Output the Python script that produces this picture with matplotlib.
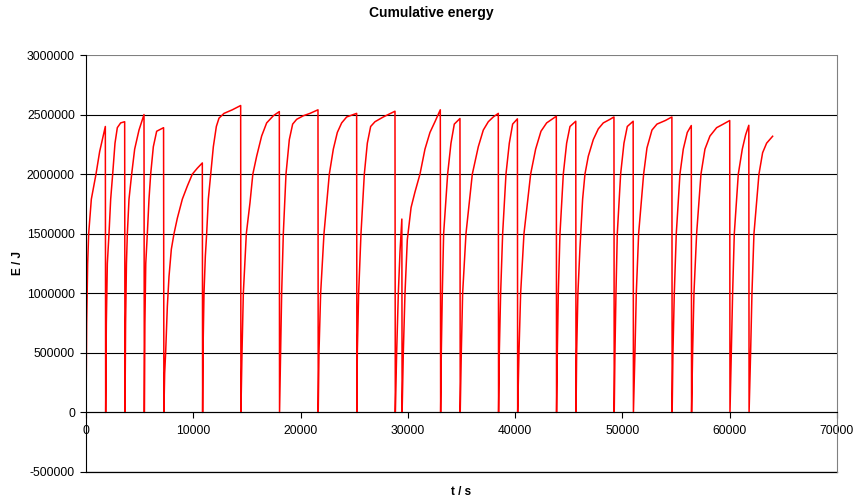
import matplotlib
matplotlib.use("Agg")
import matplotlib.pyplot as plt

plt.rcParams['font.family'] = ['Liberation Sans', 'DejaVu Sans']

# time (s) and cumulative energy (J); each segment restarts at 0
t_s = [
    0, 62, 155, 249, 497, 932, 1274, 1802,
    1833, 1895, 1988, 2144, 2300, 2486, 2703, 2920, 3231, 3604,
    3635, 3690, 3770, 3853, 4008, 4256, 4536, 4940, 5406,
    5437, 5490, 5570, 5717, 5872, 6028, 6276, 6587, 7230,
    7260, 7332, 7425, 7581, 7736, 7954, 8202, 8513, 8979, 9445, 9911, 10377, 10843,
    10870, 10905, 10999, 11123, 11247, 11402, 11620, 11869, 12149, 12397, 12863, 13640, 14416,
    14440, 14541, 14665, 14944, 15285, 15550, 15906, 16372, 16839, 17460, 18019,
    18040, 18143, 18237, 18392, 18641, 18951, 19262, 19635, 20256, 20878, 21623,
    21645, 21716, 21871, 22182, 22679, 23053, 23426, 23830, 24296, 25227,
    25250, 25289, 25413, 25631, 25942, 26222, 26532, 26936, 27713, 28800,
    28830, 28956, 29112, 29267, 29440,
    29465, 29577, 29733, 29950, 30300, 30663, 31129, 31595, 32061, 32527, 33024,
    33055, 33118, 33211, 33335, 33708, 34019, 34329, 34857,
    34880, 34982, 35106, 35417, 36007, 36566, 37032, 37498, 37964, 38431,
    38455, 38524, 38648, 38835, 39146, 39456, 39767, 40210,
    40235, 40357, 40512, 40823, 41444, 41910, 42408, 42936, 43837,
    43860, 43930, 44023, 44179, 44489, 44800, 45111, 45650,
    45675, 45733, 45850, 46041, 46290, 46507, 46818, 47284, 47750, 48216, 48837, 49210,
    49235, 49303, 49397, 49521, 49832, 50143, 50453, 51000,
    51025, 51168, 51292, 51510, 51976, 52287, 52753, 53219, 53996, 54610,
    54635, 54709, 54834, 55020, 55362, 55672, 56045, 56418,
    56445, 56543, 56667, 56916, 57320, 57692, 58158, 58780, 59401, 60000,
    60025, 60147, 60271, 60427, 60799, 61172, 61483, 61780,
    61805, 61949, 62073, 62260, 62725, 63067, 63440, 64000,
]
E_J = [
    0, 748000, 1250000, 1500000, 1790000, 2000000, 2190000, 2400000,
    0, 748000, 1250000, 1500000, 1790000, 2000000, 2260000, 2390000, 2430000, 2440000,
    0, 748000, 1250000, 1500000, 1790000, 2000000, 2210000, 2370000, 2500000,
    0, 748000, 1250000, 1500000, 1790000, 2000000, 2230000, 2360000, 2390000,
    0, 328000, 505000, 889000, 1140000, 1370000, 1500000, 1630000, 1790000, 1900000, 2000000, 2050000, 2094000,
    0, 505000, 1000000, 1310000, 1500000, 1790000, 2000000, 2230000, 2400000, 2470000, 2510000, 2540000, 2576000,
    0, 505000, 1000000, 1500000, 1760000, 2000000, 2150000, 2320000, 2430000, 2490000, 2525000,
    0, 505000, 1000000, 1500000, 2000000, 2290000, 2420000, 2460000, 2490000, 2510000, 2540000,
    0, 505000, 1000000, 1500000, 2000000, 2210000, 2350000, 2430000, 2480000, 2510000,
    0, 505000, 1000000, 1500000, 2000000, 2260000, 2400000, 2440000, 2480000, 2528000,
    0, 505000, 1000000, 1350000, 1623000,
    0, 505000, 1000000, 1450000, 1720000, 1850000, 2000000, 2210000, 2350000, 2440000, 2540000,
    0, 505000, 1000000, 1500000, 2000000, 2260000, 2420000, 2467000,
    0, 505000, 1000000, 1500000, 2000000, 2230000, 2370000, 2440000, 2480000, 2510000,
    0, 505000, 1000000, 1500000, 2000000, 2260000, 2420000, 2464000,
    0, 505000, 1000000, 1500000, 2000000, 2210000, 2360000, 2430000, 2486000,
    0, 505000, 1000000, 1500000, 2000000, 2260000, 2400000, 2444000,
    0, 505000, 1000000, 1380000, 1790000, 2000000, 2150000, 2290000, 2380000, 2430000, 2460000, 2480000,
    0, 505000, 1000000, 1500000, 2000000, 2260000, 2400000, 2444000,
    0, 505000, 1000000, 1500000, 2000000, 2220000, 2370000, 2420000, 2450000, 2480000,
    0, 505000, 1000000, 1500000, 2000000, 2210000, 2350000, 2408000,
    0, 505000, 1000000, 1500000, 2000000, 2210000, 2320000, 2390000, 2420000, 2450000,
    0, 505000, 1000000, 1500000, 2000000, 2210000, 2330000, 2410000,
    0, 505000, 1000000, 1500000, 2000000, 2180000, 2260000, 2318000,
]

x_ticks = [0, 10000, 20000, 30000, 40000, 50000, 60000, 70000]
y_ticks = [-500000, 0, 500000, 1000000, 1500000, 2000000, 2500000, 3000000]

fig = plt.figure(figsize=(8.55, 5.04), dpi=100)
ax = fig.add_axes([86 / 855, 1 - 472 / 504, (837 - 86) / 855, (472 - 55) / 504])

ax.plot(t_s, E_J, color='#FF0000', lw=1.1, solid_joinstyle='round')

ax.set_xlim(0, 70000)
ax.set_ylim(-500000, 3000000)
ax.set_xticks(x_ticks)
ax.set_yticks(y_ticks)
ax.set_xticklabels([str(v) for v in x_ticks])
ax.set_yticklabels([str(v) for v in y_ticks])

ax.yaxis.grid(True, color='black', lw=0.8)
ax.get_ygridlines()[-1].set_color('#808080')
ax.axhline(y_ticks[0], color='black', lw=0.9, clip_on=False, zorder=0.5)
ax.set_axisbelow(True)

ax.spines['bottom'].set_position(('data', 0))
ax.spines['bottom'].set_color('black')
ax.spines['bottom'].set_linewidth(0.8)
ax.spines['left'].set_color('black')
ax.spines['left'].set_linewidth(0.8)
ax.spines['top'].set_visible(False)
ax.spines['right'].set_color('#808080')
ax.spines['right'].set_linewidth(0.8)

ax.tick_params(axis='both', direction='out', length=4, width=0.8, labelsize=8.7, colors='black')
ax.tick_params(axis='x', pad=5)
ax.tick_params(axis='y', pad=4)

fig.text(431 / 855, 1 - 13 / 504, 'Cumulative energy', ha='center', va='center',
         fontsize=10, fontweight='bold')
fig.text(461 / 855, 1 - 492 / 504, 't / s', ha='center', va='center',
         fontsize=8.5, fontweight='bold')
fig.text(18 / 855, 1 - 263 / 504, 'E / J', ha='center', va='center',
         fontsize=8.5, fontweight='bold', rotation=90)

fig.savefig('out.png', dpi=100)
